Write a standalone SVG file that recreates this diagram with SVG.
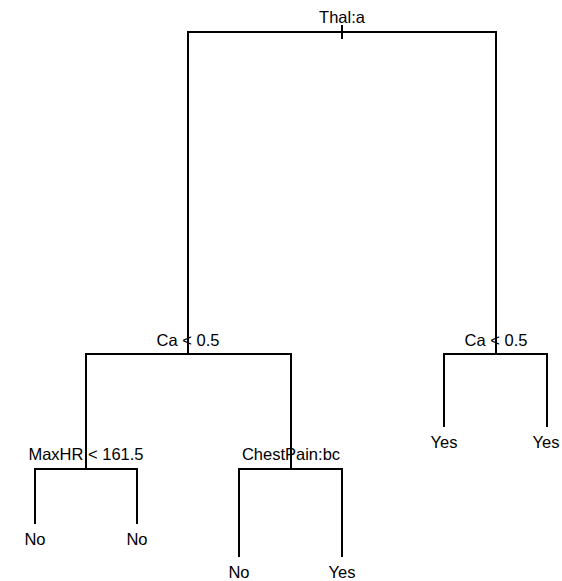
<svg xmlns="http://www.w3.org/2000/svg" width="562" height="581" viewBox="0 0 562 581">
<style>
.e{stroke:#000;stroke-width:2;fill:none;stroke-linecap:butt}
text{font-family:"Liberation Sans",Arial,sans-serif;font-size:16.5px;fill:#000;text-anchor:middle}
</style>
<rect width="562" height="581" fill="#fff"/>
<g id="connectors">
<path class="e" d="M342 25V39"/>
<path class="e" d="M188 354V32H496V354"/>
<path class="e" d="M86 469V354H291V469"/>
<path class="e" d="M444 427V354H547V427"/>
<path class="e" d="M35 524V469H137V524"/>
<path class="e" d="M239 557V469H342V557"/>
</g>
<g id="n-root"><text x="342" y="23">Thal:a</text></g>
<g id="n-left"><text x="188" y="346">Ca &lt; 0.5</text></g>
<g id="n-right"><text x="496" y="346">Ca &lt; 0.5</text></g>
<g id="n-maxhr"><text x="86" y="460">MaxHR &lt; 161.5</text></g>
<g id="n-chest"><text x="291" y="460">ChestPain:bc</text></g>
<g id="leaf1"><text x="35" y="545">No</text></g>
<g id="leaf2"><text x="137" y="545">No</text></g>
<g id="leaf3"><text x="239" y="578">No</text></g>
<g id="leaf4"><text x="342" y="578">Yes</text></g>
<g id="leaf5"><text x="444" y="448">Yes</text></g>
<g id="leaf6"><text x="546" y="448">Yes</text></g>
</svg>
